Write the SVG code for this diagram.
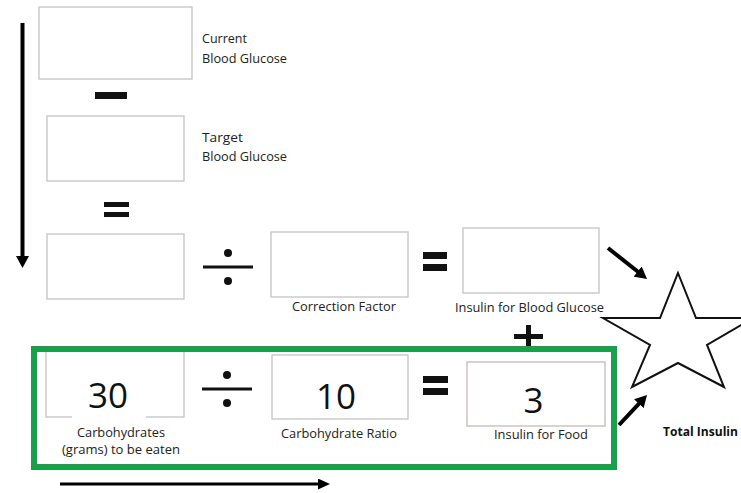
<svg xmlns="http://www.w3.org/2000/svg" width="741" height="493" viewBox="0 0 741 493">
  <style>
    .box { fill: #ffffff; stroke: #c4c4c4; stroke-width: 1.3; }
    .box-warm { fill: #ffffff; stroke: #c9b9b9; stroke-width: 1.3; }
    .lbl { font-family: "Open Sans", "Liberation Sans", sans-serif; font-size: 12.5px; fill: #222222; }
    .bold { font-weight: bold; fill: #111111; }
    .num { font-family: "Open Sans", "Liberation Sans", sans-serif; font-size: 35px; fill: #111111; text-anchor: middle; }
    .op { fill: #111111; }
    .bar { stroke: #111111; stroke-width: 3; }
    .arrow { stroke: #000000; stroke-width: 4; fill: none; marker-end: url(#head); }
    .arrow-thin { stroke: #000000; stroke-width: 3; fill: none; marker-end: url(#head-small); }
    .frame { fill: none; stroke: #1aa04b; stroke-width: 6; }
    .star { fill: #ffffff; stroke: #111111; stroke-width: 2; stroke-linejoin: miter; }
  </style>
  <defs>
    <marker id="head" markerUnits="userSpaceOnUse" markerWidth="13" markerHeight="13" refX="2" refY="6.5" orient="auto">
      <path d="M0,0 L12,6.5 L0,13 Z" fill="#000000"/>
    </marker>
    <marker id="head-small" markerUnits="userSpaceOnUse" markerWidth="13" markerHeight="11" refX="2" refY="5.5" orient="auto">
      <path d="M0,0 L12,5.5 L0,11 Z" fill="#000000"/>
    </marker>
  </defs>

  <rect width="741" height="493" fill="#ffffff"/>

  <!-- current blood glucose -->
  <g id="current-bg">
    <rect class="box" x="39" y="7" width="153" height="72"/>
    <text class="lbl" x="202" y="43" textLength="45" lengthAdjust="spacingAndGlyphs">Current</text>
    <text class="lbl" x="202" y="63" textLength="85" lengthAdjust="spacingAndGlyphs">Blood Glucose</text>
  </g>

  <g id="minus">
    <rect class="op" x="95" y="92" width="32" height="7"/>
  </g>

  <!-- target blood glucose -->
  <g id="target-bg">
    <rect class="box" x="47" y="116" width="137" height="65"/>
    <text class="lbl" x="202" y="142" textLength="41" lengthAdjust="spacingAndGlyphs">Target</text>
    <text class="lbl" x="202" y="161" textLength="85" lengthAdjust="spacingAndGlyphs">Blood Glucose</text>
  </g>

  <g id="equals-1">
    <rect class="op" x="104" y="202" width="25" height="5"/>
    <rect class="op" x="104" y="212" width="25" height="5"/>
  </g>

  <!-- correction row -->
  <g id="difference">
    <rect class="box" x="47" y="234" width="137" height="65"/>
  </g>

  <g id="divide-1">
    <line class="bar" x1="203" y1="267" x2="253" y2="267"/>
    <circle class="op" cx="228" cy="253" r="4"/>
    <circle class="op" cx="228" cy="281" r="4"/>
  </g>

  <g id="correction-factor">
    <rect class="box" x="271" y="232" width="137" height="65"/>
    <text class="lbl" x="292" y="311" textLength="104" lengthAdjust="spacingAndGlyphs">Correction Factor</text>
  </g>

  <g id="equals-2">
    <rect class="op" x="423" y="252" width="24" height="7"/>
    <rect class="op" x="423" y="264" width="24" height="7"/>
  </g>

  <g id="insulin-bg">
    <rect class="box" x="463" y="228" width="136" height="65"/>
    <text class="lbl" x="455" y="312" textLength="149" lengthAdjust="spacingAndGlyphs">Insulin for Blood Glucose</text>
  </g>

  <g id="plus">
    <rect class="op" x="526" y="325" width="5" height="26"/>
    <rect class="op" x="514" y="334" width="29" height="5"/>
  </g>

  <!-- food row -->
  <g id="carbs">
    <rect class="box" x="46" y="351" width="138" height="66"/>
    <rect x="72" y="366" width="74" height="54" fill="#ffffff"/>
    <text class="num" x="108" y="408">30</text>
    <text class="lbl" x="77" y="437" textLength="88" lengthAdjust="spacingAndGlyphs">Carbohydrates</text>
    <text class="lbl" x="62" y="454" textLength="118" lengthAdjust="spacingAndGlyphs">(grams) to be eaten</text>
  </g>

  <g id="divide-2">
    <line class="bar" x1="202" y1="389" x2="252" y2="389"/>
    <circle class="op" cx="227" cy="375" r="4"/>
    <circle class="op" cx="227" cy="403" r="4"/>
  </g>

  <g id="carb-ratio">
    <rect class="box" x="272" y="355" width="136" height="64"/>
    <text class="num" x="336" y="409">10</text>
    <text class="lbl" x="281" y="438" textLength="116" lengthAdjust="spacingAndGlyphs">Carbohydrate Ratio</text>
  </g>

  <g id="equals-3">
    <rect class="op" x="423" y="376" width="25" height="7"/>
    <rect class="op" x="423" y="388" width="25" height="7"/>
  </g>

  <g id="insulin-food">
    <rect class="box-warm" x="467" y="362" width="138" height="64"/>
    <text class="num" x="533.5" y="413">3</text>
    <text class="lbl" x="494" y="439" textLength="94" lengthAdjust="spacingAndGlyphs">Insulin for Food</text>
  </g>

  <g id="food-frame">
    <rect class="frame" x="34" y="349" width="580" height="118"/>
  </g>

  <!-- total -->
  <g id="total-insulin">
    <polygon class="star" points="678,273 696,318 753,318 707,345 724,387 678,363 632,387 650,345 603,318 660,318"/>
    <text class="lbl bold" x="663" y="436" textLength="75" lengthAdjust="spacingAndGlyphs">Total Insulin</text>
  </g>

  <!-- connectors -->
  <g id="connectors">
    <line class="arrow" x1="22.5" y1="23" x2="22.5" y2="258"/>
    <line class="arrow-thin" x1="60" y1="484" x2="320" y2="484"/>
    <line class="arrow" x1="608" y1="248" x2="639.2" y2="272.8"/>
    <line class="arrow" x1="619" y1="425" x2="640.2" y2="402.3"/>
  </g>
</svg>
